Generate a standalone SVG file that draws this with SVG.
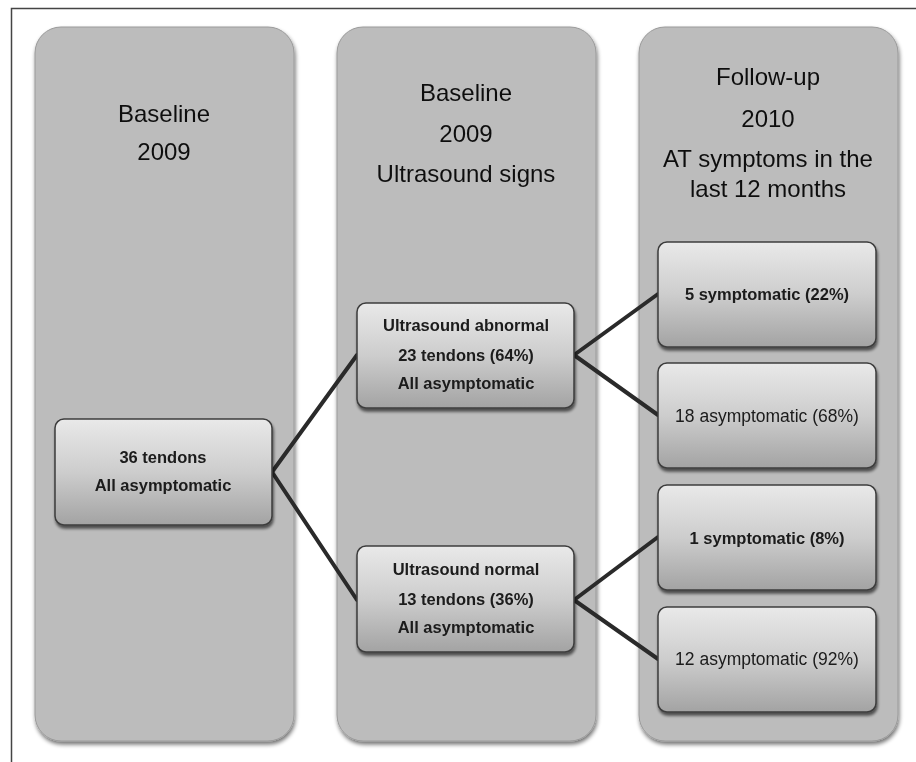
<svg xmlns="http://www.w3.org/2000/svg" width="916" height="762" viewBox="0 0 916 762">
<defs>
<linearGradient id="nodeGrad" x1="0" y1="0" x2="0" y2="1">
<stop offset="0" stop-color="#e9e9e9"/>
<stop offset="0.5" stop-color="#cdcdcd"/>
<stop offset="1" stop-color="#a3a3a3"/>
</linearGradient>
<filter id="colShadow" x="-5%" y="-5%" width="115%" height="110%">
<feGaussianBlur in="SourceAlpha" stdDeviation="2"/>
<feOffset dx="1" dy="3" result="b"/>
<feComponentTransfer><feFuncA type="linear" slope="0.55"/></feComponentTransfer>
<feMerge><feMergeNode/><feMergeNode in="SourceGraphic"/></feMerge>
</filter>
<filter id="nodeShadow" x="-10%" y="-10%" width="125%" height="130%">
<feGaussianBlur in="SourceAlpha" stdDeviation="1.8"/>
<feOffset dx="1" dy="3" result="b"/>
<feComponentTransfer><feFuncA type="linear" slope="0.6"/></feComponentTransfer>
<feMerge><feMergeNode/><feMergeNode in="SourceGraphic"/></feMerge>
</filter>
</defs>
<style>
.col{fill:#bcbcbc;stroke:#9a9a9a;stroke-width:1}
.node{fill:url(#nodeGrad);stroke:#3c3c3c;stroke-width:1.5}
.hdr{font-family:"Liberation Sans",Arial,sans-serif;font-size:24px;fill:#111;text-anchor:middle}
.nt{font-family:"Liberation Sans",Arial,sans-serif;font-size:16.5px;font-weight:bold;fill:#1a1a1a;text-anchor:middle}
.nr{font-family:"Liberation Sans",Arial,sans-serif;font-size:17.5px;fill:#1a1a1a;text-anchor:middle}
.conn{stroke:#2a2a2a;stroke-width:4;fill:none;stroke-linecap:round}
</style>
<rect width="916" height="762" fill="#ffffff"/>
<path d="M11.5 762 V8.5 H916" fill="none" stroke="#444" stroke-width="1.5"/>

<g id="col1" filter="url(#colShadow)">
<rect class="col" x="35" y="27" width="259" height="714" rx="26"/>
<text class="hdr" x="164" y="122">Baseline</text>
<text class="hdr" x="164" y="160">2009</text>
</g>
<g id="col2" filter="url(#colShadow)">
<rect class="col" x="337" y="27" width="259" height="714" rx="26"/>
<text class="hdr" x="466" y="101">Baseline</text>
<text class="hdr" x="466" y="142">2009</text>
<text class="hdr" x="466" y="182">Ultrasound signs</text>
</g>
<g id="col3" filter="url(#colShadow)">
<rect class="col" x="639" y="27" width="259" height="714" rx="26"/>
<text class="hdr" x="768" y="85">Follow-up</text>
<text class="hdr" x="768" y="127">2010</text>
<text class="hdr" x="768" y="167">AT symptoms in the</text>
<text class="hdr" x="768" y="197">last 12 months</text>
</g>

<g id="connectors">
<line class="conn" x1="272" y1="472" x2="357" y2="355"/>
<line class="conn" x1="272" y1="472" x2="357" y2="600"/>
<line class="conn" x1="574" y1="355" x2="658" y2="294"/>
<line class="conn" x1="574" y1="355" x2="658" y2="415"/>
<line class="conn" x1="574" y1="600" x2="658" y2="537"/>
<line class="conn" x1="574" y1="600" x2="658" y2="659"/>
</g>

<g id="n36" filter="url(#nodeShadow)">
<rect class="node" x="55" y="419" width="217" height="106" rx="9"/>
<text class="nt" x="163" y="463">36 tendons</text>
<text class="nt" x="163" y="491">All asymptomatic</text>
</g>
<g id="nAbn" filter="url(#nodeShadow)">
<rect class="node" x="357" y="303" width="217" height="105" rx="9"/>
<text class="nt" x="466" y="331">Ultrasound abnormal</text>
<text class="nt" x="466" y="361">23 tendons (64%)</text>
<text class="nt" x="466" y="389">All asymptomatic</text>
</g>
<g id="nNorm" filter="url(#nodeShadow)">
<rect class="node" x="357" y="546" width="217" height="106" rx="9"/>
<text class="nt" x="466" y="575">Ultrasound normal</text>
<text class="nt" x="466" y="605">13 tendons (36%)</text>
<text class="nt" x="466" y="633">All asymptomatic</text>
</g>
<g id="nS5" filter="url(#nodeShadow)">
<rect class="node" x="658" y="242" width="218" height="105" rx="9"/>
<text class="nt" x="767" y="300">5 symptomatic (22%)</text>
</g>
<g id="nA18" filter="url(#nodeShadow)">
<rect class="node" x="658" y="363" width="218" height="105" rx="9"/>
<text class="nr" x="767" y="422">18 asymptomatic (68%)</text>
</g>
<g id="nS1" filter="url(#nodeShadow)">
<rect class="node" x="658" y="485" width="218" height="105" rx="9"/>
<text class="nt" x="767" y="544">1 symptomatic (8%)</text>
</g>
<g id="nA12" filter="url(#nodeShadow)">
<rect class="node" x="658" y="607" width="218" height="105" rx="9"/>
<text class="nr" x="767" y="665">12 asymptomatic (92%)</text>
</g>
</svg>
